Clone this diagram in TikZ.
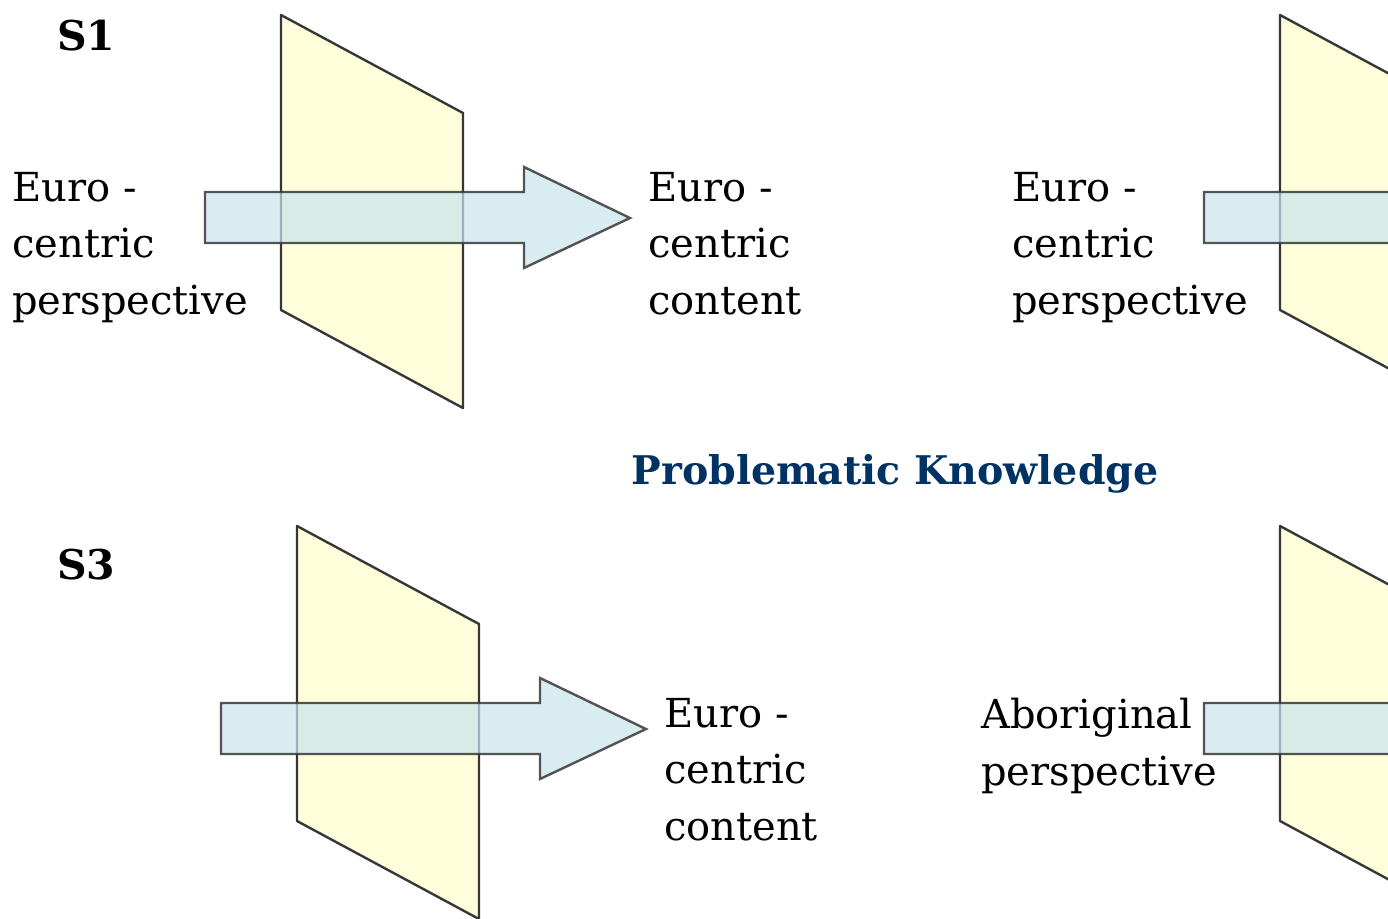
\documentclass[tikz,border=0pt]{standalone}
\usepackage{fontspec}
\setmainfont{DejaVu Serif}
\definecolor{panelyellow}{RGB}{255,255,220}
\definecolor{arrowblue}{RGB}{200,228,236}
\definecolor{titleblue}{RGB}{0,50,100}
\definecolor{edgegray}{RGB}{55,55,55}
\tikzset{
  panel/.style={draw=edgegray, line width=2.4pt, fill=panelyellow, line join=round},
  shaft/.style={draw=edgegray, draw opacity=0.85, line width=2.4pt, fill=arrowblue, fill opacity=0.7, line join=miter},
  gate/.pic={
    \draw[panel] (0,0) -- (182,98) -- (182,393) -- (0,295) -- cycle;
    \draw[shaft] (-76,177) -- (243,177) -- (243,152) -- (349,203) -- (243,253) -- (243,228) -- (-76,228) -- cycle;
  }
}

\begin{document}
\begin{tikzpicture}[x=1pt, y=-1pt]
   \clip (0,0) rectangle (1388,918);
   \pic at (281,15) {gate};
   \pic at (1280,15) {gate};
   \pic at (297,526) {gate};
   \pic at (1280,526) {gate};
   \begin{scope}[every node/.style={anchor=base west, inner sep=0pt, align=left, font=\fontsize{40}{56.5}\selectfont}]
    \node (s1) [font=\fontsize{41}{50}\selectfont\bfseries] at (57,50) {S1};
    \node (s3) [font=\fontsize{41}{50}\selectfont\bfseries] at (57,579) {S3};
    \node (euroa) at (12,314) {Euro -\\centric\\perspective};
    \node (contenta) at (648,314) {Euro -\\centric\\content};
    \node (eurob) at (1012,314) {Euro -\\centric\\perspective};
    \node (title) [anchor=base, text=titleblue, font=\fontsize{39.5}{50}\selectfont\bfseries] at (895,484) {Problematic Knowledge};
    \node (contentb) at (664,840) {Euro -\\centric\\content};
    \node (abor) at (981,785) {Aboriginal\\perspective};
   \end{scope}
\end{tikzpicture}
\end{document}
